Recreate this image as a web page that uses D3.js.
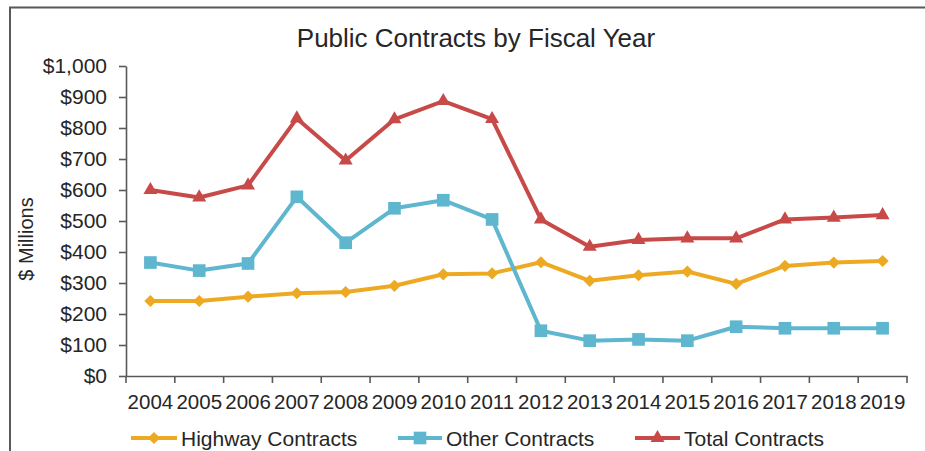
<!DOCTYPE html>
<html>
<head>
<meta charset="utf-8">
<script src="https://cdn.jsdelivr.net/npm/d3@7"></script>
<style>
  html, body { margin: 0; padding: 0; background: #fff; }
  svg { display: block; font-family: "Liberation Sans", Arial, sans-serif; }
</style>
</head>
<body>
<svg id="chart" width="925" height="451"></svg>
<script>
// Fiscal years along the x axis
const years = ["2004","2005","2006","2007","2008","2009","2010","2011",
               "2012","2013","2014","2015","2016","2017","2018","2019"];

// $ Millions
const highway = [242, 242, 256, 267, 271, 291, 328, 331, 367, 307, 325, 337, 297, 355, 366, 371];
const other   = [366, 340, 363, 578, 430, 541, 567, 505, 146, 114, 118, 114, 159, 154, 154, 154];
const total   = [600, 576, 615, 831, 695, 828, 887, 829, 505, 417, 439, 444, 444, 505, 511, 519];

const yTicks = [0, 100, 200, 300, 400, 500, 600, 700, 800, 900, 1000];

const seriesList = [
  { name: "Highway Contracts", values: highway, color: "#EEA922", shape: d3.symbolDiamond2, size: 95 },
  { name: "Other Contracts",   values: other,   color: "#5EB6CF", shape: d3.symbolSquare,   size: 160 },
  { name: "Total Contracts",   values: total,   color: "#C84A48", shape: d3.symbolTriangle, size: 85 }
];

const svg = d3.select("#chart");
const axisColor = "#595959";
const textColor = "#262626";

// outer frame (only top and left edges are visible)
svg.append("path")
  .attr("d", "M10,451 L10,7.5 L925,7.5")
  .attr("fill", "none")
  .attr("stroke", axisColor)
  .attr("stroke-width", 2);

const x = d3.scaleBand().domain(years).range([126, 907]).padding(0);
const y = d3.scaleLinear().domain([0, 1000]).range([376, 66]);

// title
svg.append("text")
  .attr("x", 476)
  .attr("y", 47)
  .attr("text-anchor", "middle")
  .attr("font-size", 26)
  .attr("fill", textColor)
  .text("Public Contracts by Fiscal Year");

// y axis
const yAxis = svg.append("g")
  .attr("transform", "translate(126,0)")
  .call(d3.axisLeft(y).tickValues(yTicks).tickSize(7).tickSizeOuter(0).tickPadding(12)
    .tickFormat(d => "$" + d3.format(",")(d)));
yAxis.selectAll("text").attr("font-size", 21).attr("fill", textColor);

// x axis: labels centred in bands, ticks on band edges
const xAxis = svg.append("g")
  .attr("transform", "translate(0,376)")
  .call(d3.axisBottom(x).tickSize(0).tickSizeOuter(0).tickPadding(18));
xAxis.selectAll("text").attr("font-size", 20.5).attr("fill", textColor);
xAxis.selectAll(".edge-tick")
  .data(years.map(d => x(d)).concat([x.range()[1]]))
  .join("line")
    .attr("class", "edge-tick")
    .attr("x1", d => d).attr("x2", d => d)
    .attr("y1", 0).attr("y2", 7);

svg.selectAll(".domain, .tick line, .edge-tick")
  .attr("stroke", axisColor)
  .attr("stroke-width", 1.6);

// y axis title
svg.append("text")
  .attr("transform", "translate(33,239) rotate(-90)")
  .attr("text-anchor", "middle")
  .attr("font-size", 20)
  .attr("fill", textColor)
  .text("$ Millions");

// series lines and markers
const line = d3.line()
  .x((d, i) => x(years[i]) + x.bandwidth() / 2)
  .y(d => y(d));

seriesList.forEach(s => {
  svg.append("path")
    .datum(s.values)
    .attr("fill", "none")
    .attr("stroke", s.color)
    .attr("stroke-width", 4)
    .attr("stroke-linejoin", "round")
    .attr("d", line);

  svg.append("g").selectAll("path")
    .data(s.values)
    .join("path")
      .attr("transform", (d, i) => `translate(${x(years[i]) + x.bandwidth() / 2},${y(d)})`)
      .attr("d", d3.symbol().type(s.shape).size(s.size))
      .attr("fill", s.color);
});

// legend
const legendItems = [
  { x0: 131, x1: 177 },
  { x0: 398, x1: 442 },
  { x0: 635, x1: 680 }
];
const legend = svg.append("g");
seriesList.forEach((s, i) => {
  const pos = legendItems[i];
  const g = legend.append("g");
  g.append("line")
    .attr("x1", pos.x0).attr("x2", pos.x1)
    .attr("y1", 438).attr("y2", 438)
    .attr("stroke", s.color)
    .attr("stroke-width", 4);
  g.append("path")
    .attr("transform", `translate(${(pos.x0 + pos.x1) / 2},438)`)
    .attr("d", d3.symbol().type(s.shape).size(s.size))
    .attr("fill", s.color);
  g.append("text")
    .attr("x", pos.x1 + 4)
    .attr("y", 445.5)
    .attr("font-size", 21)
    .attr("fill", textColor)
    .text(s.name);
});
</script>
</body>
</html>
